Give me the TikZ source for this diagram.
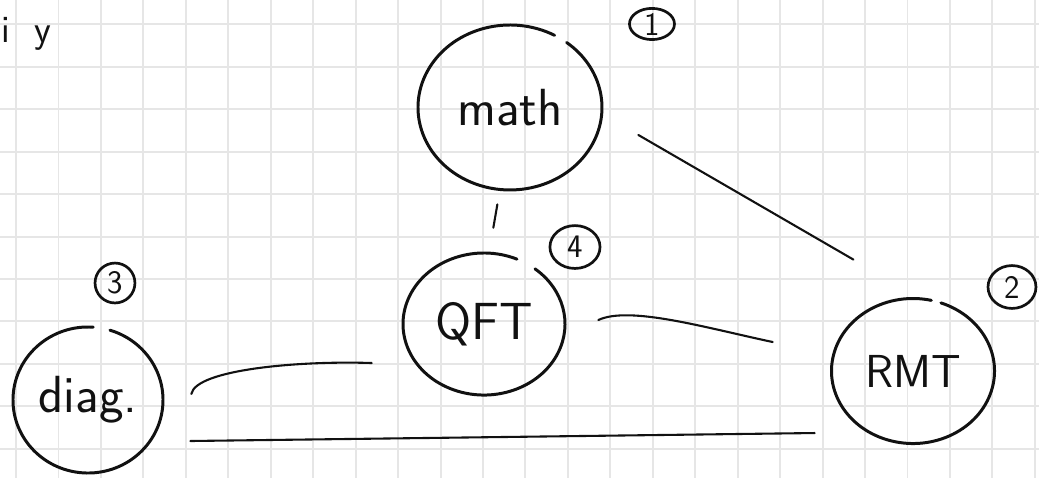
\documentclass[tikz,border=0pt]{standalone}
\usepackage{tikz}
\usetikzlibrary{shapes.geometric}
\definecolor{gridgray}{HTML}{E6E6E6}
\definecolor{ink}{HTML}{111111}

\begin{document}
\begin{tikzpicture}[
    bubble/.style={ellipse,inner sep=0pt,text=ink,font=\sffamily\fontsize{35}{40}\selectfont},
    tag/.style={ellipse,draw=ink,line width=1.8pt,inner sep=0pt,text=ink,font=\sffamily\fontsize{22}{26}\selectfont},
    ring/.style={draw=ink,line width=2pt,line cap=round},
    link/.style={draw=ink,line width=1.4pt,line cap=round},
    gridline/.style={draw=gridgray,line width=1.3pt}]
  % grid paper
  \useasboundingbox (0,0) rectangle (24.476,-11.26);
  \clip (0,0) rectangle (24.476,-11.26);
  \fill[white] (0,0) rectangle (24.476,-11.26);
  \foreach \k in {0,...,24} \draw[gridline] (0.378+\k,0) -- (0.378+\k,-11.26);
  \foreach \k in {0,...,10} \draw[gridline] (0,-0.572-\k) -- (24.476,-0.572-\k);
  \node[anchor=base west,inner sep=0pt,text=ink,font=\sffamily\fontsize{26}{30}\selectfont] (corner) at (0.03,-1.01) {i~~y};

  % the four topics
  \node[bubble,minimum width=4.334cm,minimum height=3.886cm] (math) at (12.014,-2.532) {math};
  \node[bubble,minimum width=3.816cm,minimum height=3.346cm] (QFT) at (11.402,-7.633) {QFT};
  \node[bubble,minimum width=3.534cm,minimum height=3.44cm] (diag) at (2.073,-9.423) {diag.};
  \node[bubble,minimum width=3.84cm,minimum height=3.416cm,font=\sffamily\fontsize{31}{36}\selectfont] (RMT) at (21.508,-8.74) {RMT};
  \foreach \nm/\ra/\rb/\sa/\da in {math/2.167/1.943/61/351, QFT/1.908/1.673/66/345, diag/1.767/1.72/86/347, RMT/1.92/1.708/77/353}
    \draw[ring] ([shift={({\ra*cos(\sa)},{\rb*sin(\sa)})}]\nm.center) arc[start angle=\sa, delta angle=\da, x radius=\ra, y radius=\rb];

  % numbering
  \node[tag,minimum width=1.06cm,minimum height=0.71cm] (tag1) at (15.359,-0.565) {1};
  \node[tag,minimum width=1.13cm,minimum height=1.01cm] (tag2) at (23.84,-6.761) {2};
  \node[tag,minimum width=0.94cm,minimum height=0.94cm] (tag3) at (2.709,-6.667) {3};
  \node[tag,minimum width=1.18cm,minimum height=1.01cm] (tag4) at (13.545,-5.819) {4};

  % links
  \draw[link,shorten <=0.99cm,shorten >=1.83cm] (math.-4.7) -- (RMT.84.4);
  \draw[link,shorten <=0.35cm,shorten >=0.6cm] (math.-97.2) -- (QFT.86.2);
  \draw[link] ([shift={(0.777,0.094)}]QFT.east) to[out=25,in=168,out looseness=0.5] ([shift={(-1.378,0.683)}]RMT.west);
  \draw[link] ([shift={(0.66,0.141)}]diag.east) to[out=80,in=178,out looseness=0.35] ([shift={(-0.73,-0.919)}]QFT.west);
  \draw[link] ([shift={(0.636,-0.966)}]diag.east) -- ([shift={(-0.389,-1.461)}]RMT.west);
\end{tikzpicture}
\end{document}
